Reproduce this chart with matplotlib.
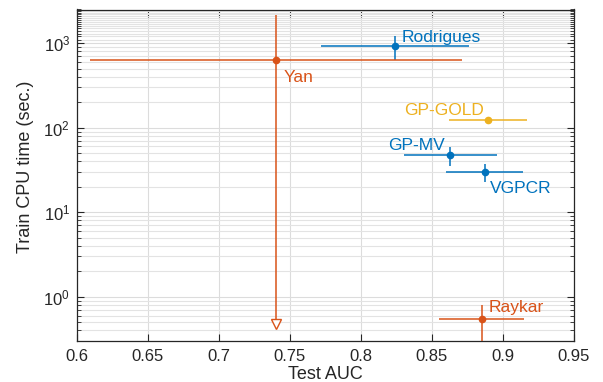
import numpy as np
import matplotlib
matplotlib.use("Agg")
import matplotlib.pyplot as plt
from matplotlib.ticker import FixedLocator, LogFormatterSciNotation, NullFormatter

plt.rcParams['font.family'] = ['Liberation Sans', 'DejaVu Sans']
plt.rcParams['mathtext.fontset'] = 'custom'
plt.rcParams['mathtext.rm'] = 'Liberation Sans'
plt.rcParams['mathtext.it'] = 'Liberation Sans:italic'

# ---- data ----
methods = ["Rodrigues", "Yan", "GP-GOLD", "GP-MV", "VGPCR", "Raykar"]
auc = [0.824, 0.740, 0.8895, 0.863, 0.887, 0.885]
auc_err = [0.052, 0.131, 0.0275, 0.033, 0.027, 0.030]
cpu_time = [930, 625, 124, 47, 29.8, 0.54]
time_err_up = [300, 1550, 10, 12, 7, 0.26]
time_err_lo = [300, 624.52, 10, 12, 7, 0.26]
yan_clip = 0.48  # where the clipped Yan lower bar ends (marked with triangle)

xticks = [0.6, 0.65, 0.7, 0.75, 0.8, 0.85, 0.9, 0.95]
xtick_labels = ["0.6", "0.65", "0.7", "0.75", "0.8", "0.85", "0.9", "0.95"]

blue = "#0072BD"
orange = "#D95319"
yellow = "#EDB120"
colors = [blue, orange, yellow, blue, blue, orange]

# label placement: (dx px, dy px, ha, va)
label_pos = {
    "Rodrigues": (7, 4, "left", "baseline"),
    "Yan": (8, -22, "left", "baseline"),
    "GP-GOLD": (-4, 5, "right", "baseline"),
    "GP-MV": (-6, 5, "right", "baseline"),
    "VGPCR": (5, -21, "left", "baseline"),
    "Raykar": (7, 7, "left", "baseline"),
}

fig = plt.figure(figsize=(6.03, 3.82), dpi=100)
ax = fig.add_axes([77/603, 1-341/382, (574-77)/603, (341-9.5)/382])
ax.set_yscale("log")

for i, m in enumerate(methods):
    ax.errorbar(auc[i], cpu_time[i], xerr=auc_err[i],
                yerr=[[time_err_lo[i]], [time_err_up[i]]],
                fmt='o', color=colors[i], ms=4.5, lw=1.1, elinewidth=1.1,
                capsize=0, zorder=3)
    dx, dy, ha, va = label_pos[m]
    ax.annotate(m, (auc[i], cpu_time[i]), xytext=(dx, dy),
                textcoords='offset pixels', ha=ha, va=va,
                color=colors[i], fontsize=12.5, zorder=4)

# clipped lower bound marker for Yan
ax.plot([auc[1]], [yan_clip], marker='v', ms=6.5, mfc='white',
        mec=orange, mew=1.0, ls='none', zorder=4)

ax.set_xlim(0.6, 0.95)
ax.set_ylim(0.3, 2500)
ax.set_xticks(xticks)
ax.set_xticklabels(xtick_labels)

ax.yaxis.set_major_locator(FixedLocator([1, 10, 100, 1000]))
ax.yaxis.set_major_formatter(LogFormatterSciNotation())
minor = []
for d in [-1, 0, 1, 2]:
    for k in range(2, 10):
        v = k * 10.0**d
        if 0.3 <= v <= 2500:
            minor.append(v)
minor += list(range(1100, 2600, 100))
ax.yaxis.set_minor_locator(FixedLocator(minor))
ax.yaxis.set_minor_formatter(NullFormatter())

ax.grid(True, which='major', color='#dcdcdc', lw=0.8, zorder=0)
ax.grid(True, which='minor', axis='y', color='#e3e3e3', lw=0.8, zorder=0)
ax.set_axisbelow(True)

ax.tick_params(which='both', direction='in', top=True, right=True,
               color='#262626', labelsize=12, labelcolor='#262626')
ax.tick_params(axis='x', which='major', pad=6)
ax.tick_params(axis='y', which='major', pad=5)
ax.tick_params(which='major', length=5, width=0.8)
ax.tick_params(which='minor', length=3, width=0.6)
for s in ax.spines.values():
    s.set_color('#262626')
    s.set_linewidth(0.9)

ax.set_xlabel("Test AUC", fontsize=13, color='#262626')
ax.set_ylabel("Train CPU time (sec.)", fontsize=13, color='#262626')
ax.xaxis.set_label_coords(0.5, -0.1)
ax.yaxis.set_label_coords(-0.103, 0.525)
ax.xaxis.label.set_va('center')
ax.yaxis.label.set_va('center')

fig.savefig("out.png", dpi=100)
